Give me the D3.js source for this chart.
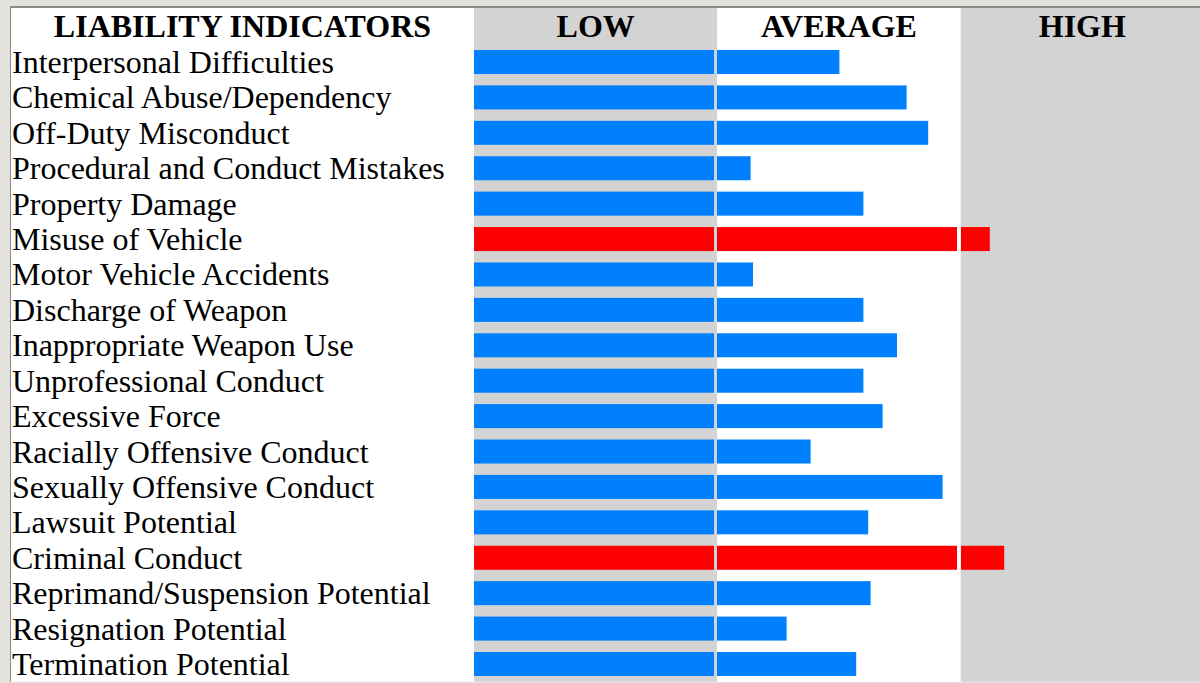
<!DOCTYPE html>
<html>
<head>
<meta charset="utf-8">
<script src="https://cdn.jsdelivr.net/npm/d3@7"></script>
<style>
  html, body { margin: 0; padding: 0; background: #ffffff; }
  svg { display: block; }
  text { font-family: "Liberation Serif", "Times New Roman", serif; fill: #000; }
</style>
</head>
<body>
<svg id="chart" width="1200" height="683"></svg>
<script>
// ---- data ----
const headerTitle = "LIABILITY INDICATORS";
const levels = ["LOW", "AVERAGE", "HIGH"];
const categories = [
  "Interpersonal Difficulties",
  "Chemical Abuse/Dependency",
  "Off-Duty Misconduct",
  "Procedural and Conduct Mistakes",
  "Property Damage",
  "Misuse of Vehicle",
  "Motor Vehicle Accidents",
  "Discharge of Weapon",
  "Inappropriate Weapon Use",
  "Unprofessional Conduct",
  "Excessive Force",
  "Racially Offensive Conduct",
  "Sexually Offensive Conduct",
  "Lawsuit Potential",
  "Criminal Conduct",
  "Reprimand/Suspension Potential",
  "Resignation Potential",
  "Termination Potential"
];
// score on a 0..3 scale (0-1 LOW, 1-2 AVERAGE, 2-3 HIGH)
const scores = [1.51, 1.79, 1.88, 1.14, 1.61, 2.12, 1.15, 1.61, 1.75, 1.61,
                1.69, 1.39, 1.94, 1.63, 2.18, 1.64, 1.29, 1.58];

// ---- layout ----
const W = 1200, H = 683;
const inner = {x0: 11, y0: 8, x1: 1200, y1: 681.7};
const labelColRight = 474;
const headerBottom = 44.3;

const svg = d3.select("#chart");

// frame
svg.append("rect").attr("x", 0).attr("y", 0).attr("width", W).attr("height", H).attr("fill", "#e4e2dc");
svg.append("rect").attr("x", inner.x0).attr("y", inner.y0).attr("width", inner.x1 - inner.x0).attr("height", inner.y1 - inner.y0).attr("fill", "#ffffff");
svg.append("rect").attr("x", inner.x0 - 1).attr("y", inner.y0 - 2).attr("width", W).attr("height", 2).attr("fill", "#8a8a8a");
svg.append("rect").attr("x", inner.x0 - 1).attr("y", inner.y0 - 2).attr("width", 1).attr("height", inner.y1 - inner.y0 + 2).attr("fill", "#8a8a8a");

// scales
const x = d3.scaleBand().domain(levels).range([labelColRight, 1204]);
const seg = d3.scaleLinear().domain([0, 1]).range([0, 240]);
const y = d3.scaleBand().domain(categories)
  .range([headerBottom, inner.y1])
  .paddingInner(0.322).paddingOuter(0.161);

const bandFill = {"LOW": "#d3d3d3", "AVERAGE": "#ffffff", "HIGH": "#d3d3d3"};

// column backgrounds
svg.append("g").selectAll("rect").data(levels).join("rect")
  .attr("x", d => x(d))
  .attr("y", inner.y0)
  .attr("width", x.bandwidth())
  .attr("height", inner.y1 - inner.y0)
  .attr("fill", d => bandFill[d]);

// header
svg.append("text").attr("x", (inner.x0 + labelColRight) / 2).attr("y", 37)
  .attr("text-anchor", "middle").attr("font-weight", "bold").attr("font-size", 32)
  .text(headerTitle);
svg.append("g").selectAll("text").data(levels).join("text")
  .attr("x", d => x(d) + x.bandwidth() / 2)
  .attr("y", 37)
  .attr("text-anchor", "middle").attr("font-weight", "bold").attr("font-size", 32)
  .text(d => d);

// labels
svg.append("g").selectAll("text").data(categories).join("text")
  .attr("x", 12)
  .attr("y", d => y(d) + y.bandwidth() / 2 + 11)
  .attr("font-size", 32)
  .text(d => d);

// bars, split per level column
const rows = categories.map((c, i) => ({cat: c, v: scores[i]}));
const segs = [];
rows.forEach(r => {
  levels.forEach((lv, j) => {
    const f = Math.max(0, Math.min(1, r.v - j));
    if (f > 0) segs.push({cat: r.cat, level: lv, f: f, high: r.v > 2});
  });
});
svg.append("g").selectAll("rect").data(segs).join("rect")
  .attr("x", d => Math.round(x(d.level)))
  .attr("y", d => y(d.cat))
  .attr("width", d => seg(d.f))
  .attr("height", y.bandwidth())
  .attr("fill", d => d.high ? "#ff0000" : "#0080ff");
</script>
</body>
</html>
